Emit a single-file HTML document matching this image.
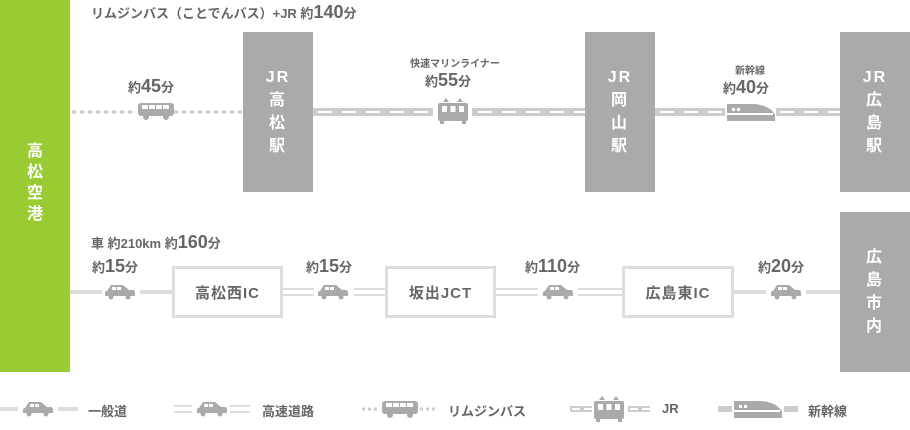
<!DOCTYPE html>
<html><head><meta charset="utf-8"><style>
*{margin:0;padding:0;box-sizing:border-box}
body{width:910px;height:430px;background:#fff;position:relative;overflow:hidden;font-family:"Liberation Sans","Noto Sans CJK JP",sans-serif;color:#666;font-weight:bold}
.a{position:absolute}
.st{position:absolute;background:#aaa;color:#fff;font-size:16px;line-height:23px;text-align:center;display:flex;flex-direction:column;justify-content:center;letter-spacing:2px}
.box{position:absolute;border:3px solid #ddd;background:#fff;font-size:15px;display:flex;align-items:center;justify-content:center;letter-spacing:1px;height:52px}
.lbl{position:absolute;font-size:13px;white-space:nowrap;text-align:center}
.lbl b{font-size:18px}
.sm{font-size:10px}
.lg{position:absolute;font-size:13px;top:401px}
</style></head><body>
<svg class="a" style="left:0;top:0" width="910" height="430">
<defs>
<g id="car"><path d="M3 7 L7 1 H19 L25 6 H29 Q31 6 31 9 V12 H1 V9 Q1 7 3 7Z" fill="#aaa"/><rect x="8" y="3" width="4" height="3" fill="#fff"/><rect x="13" y="3" width="4" height="3" fill="#fff"/><circle cx="7" cy="13" r="2.5" fill="#aaa"/><circle cx="24" cy="13" r="2.5" fill="#aaa"/></g>
<g id="bus"><rect x="0" y="0" width="36" height="13" rx="3" fill="#aaa"/><rect x="4" y="2" width="6" height="4" fill="#fff"/><rect x="11" y="2" width="6" height="4" fill="#fff"/><rect x="18" y="2" width="6" height="4" fill="#fff"/><rect x="25" y="2" width="6" height="4" fill="#fff"/><circle cx="8" cy="14" r="3" fill="#aaa"/><circle cx="28" cy="14" r="3" fill="#aaa"/></g>
<g id="train"><path d="M10 0 L7 4 H13Z M24 0 L21 4 H27Z" fill="#aaa"/><rect x="2" y="5" width="30" height="18" rx="2" fill="#aaa"/><rect x="6" y="8" width="5" height="6" fill="#fff"/><rect x="14.5" y="8" width="5" height="6" fill="#fff"/><rect x="23" y="8" width="5" height="6" fill="#fff"/><rect x="4" y="23" width="4" height="3" fill="#aaa"/><rect x="26" y="23" width="4" height="3" fill="#aaa"/></g>
<g id="shin"><path d="M0 0 H28 Q44 2 48 11 V17 H0Z" fill="#aaa"/><rect x="5" y="4" width="3" height="3" fill="#fff"/><rect x="10" y="4" width="3" height="3" fill="#fff"/><rect x="0" y="9" width="46" height="2" fill="#fff"/></g>
</defs>
<!-- top: bus dotted -->
<line x1="72" y1="112" x2="132" y2="112" stroke="#ccc" stroke-width="3" stroke-dasharray="4 4"/>
<line x1="174" y1="112" x2="243" y2="112" stroke="#ccc" stroke-width="3" stroke-dasharray="4 4"/>
<use href="#bus" x="138" y="103"/>
<!-- JR -->
<rect x="313" y="108" width="120" height="8" fill="#ccc"/><line x1="318" y1="112" x2="433" y2="112" stroke="#fff" stroke-width="2" stroke-dasharray="14 10"/>
<rect x="472" y="108" width="113" height="8" fill="#ccc"/><line x1="478" y1="112" x2="585" y2="112" stroke="#fff" stroke-width="2" stroke-dasharray="14 10"/>
<use href="#train" x="436" y="98"/>
<!-- shinkansen -->
<rect x="655" y="108" width="70" height="8" fill="#ccc"/><line x1="660" y1="112" x2="725" y2="112" stroke="#fff" stroke-width="2" stroke-dasharray="14 10"/>
<rect x="776" y="108" width="64" height="8" fill="#ccc"/><line x1="780" y1="112" x2="840" y2="112" stroke="#fff" stroke-width="2" stroke-dasharray="14 10"/>
<use href="#shin" x="727" y="104"/>
<!-- bottom -->
<line x1="70" y1="292" x2="102" y2="292" stroke="#ddd" stroke-width="4"/>
<line x1="140" y1="292" x2="172" y2="292" stroke="#ddd" stroke-width="4"/>
<g stroke="#ddd" stroke-width="2">
<line x1="282" y1="289" x2="314" y2="289"/><line x1="282" y1="295" x2="314" y2="295"/>
<line x1="354" y1="289" x2="385" y2="289"/><line x1="354" y1="295" x2="385" y2="295"/>
<line x1="495" y1="289" x2="538" y2="289"/><line x1="495" y1="295" x2="538" y2="295"/>
<line x1="578" y1="289" x2="623" y2="289"/><line x1="578" y1="295" x2="623" y2="295"/>
</g>
<line x1="733" y1="292" x2="766" y2="292" stroke="#ddd" stroke-width="4"/>
<line x1="806" y1="292" x2="840" y2="292" stroke="#ddd" stroke-width="4"/>
<use href="#car" x="104" y="284"/><use href="#car" x="317" y="284"/><use href="#car" x="542" y="284"/><use href="#car" x="770" y="284"/>
<!-- legend -->
<line x1="0" y1="409" x2="18" y2="409" stroke="#ddd" stroke-width="4"/><use href="#car" x="22" y="401"/><line x1="58" y1="409" x2="78" y2="409" stroke="#ddd" stroke-width="4"/>
<g stroke="#ddd" stroke-width="2"><line x1="174" y1="406" x2="192" y2="406"/><line x1="174" y1="412" x2="192" y2="412"/><line x1="230" y1="406" x2="250" y2="406"/><line x1="230" y1="412" x2="250" y2="412"/></g>
<use href="#car" x="196" y="401"/>
<line x1="362" y1="409" x2="380" y2="409" stroke="#ccc" stroke-width="3" stroke-dasharray="3 3"/><use href="#bus" x="382" y="401"/><line x1="420" y1="409" x2="438" y2="409" stroke="#ccc" stroke-width="3" stroke-dasharray="3 3"/>
<rect x="570" y="406" width="22" height="6" fill="#ccc"/><line x1="572" y1="409" x2="592" y2="409" stroke="#fff" stroke-width="2" stroke-dasharray="8 4"/>
<use href="#train" x="592" y="396"/>
<rect x="628" y="406" width="22" height="6" fill="#ccc"/><line x1="630" y1="409" x2="650" y2="409" stroke="#fff" stroke-width="2" stroke-dasharray="8 4"/>
<rect x="718" y="406" width="14" height="6" fill="#ccc"/><use href="#shin" x="734" y="401" transform="scale(1)"/><rect x="784" y="406" width="14" height="6" fill="#ccc"/>
</svg>

<div class="a" style="left:0;top:0;width:70px;height:372px;background:#99cc33"></div>
<div class="a" style="left:0;top:141px;width:70px;color:#fff;font-size:16px;line-height:21px;text-align:center">高<br>松<br>空<br>港</div>

<div class="st" style="left:243px;top:32px;width:70px;height:160px">JR<br>高<br>松<br>駅</div>
<div class="st" style="left:585px;top:32px;width:70px;height:160px">JR<br>岡<br>山<br>駅</div>
<div class="st" style="left:840px;top:32px;width:70px;height:160px">JR<br>広<br>島<br>駅</div>
<div class="st" style="left:840px;top:212px;width:70px;height:160px">広<br>島<br>市<br>内</div>

<div class="lbl" style="left:91px;top:2px">リムジンバス（ことでんバス）+JR 約<b>140</b>分</div>
<div class="lbl" style="left:128px;top:76px">約<b>45</b>分</div>
<div class="lbl" style="left:410px;top:55px;width:90px"><span class="sm">快速マリンライナー</span></div>
<div class="lbl" style="left:425px;top:70px">約<b>55</b>分</div>
<div class="lbl" style="left:720px;top:62px;width:60px"><span class="sm">新幹線</span></div>
<div class="lbl" style="left:723px;top:77px">約<b>40</b>分</div>

<div class="lbl" style="left:91px;top:232px">車 約210km 約<b>160</b>分</div>
<div class="lbl" style="left:92px;top:256px">約<b>15</b>分</div>
<div class="lbl" style="left:306px;top:256px">約<b>15</b>分</div>
<div class="lbl" style="left:525px;top:256px">約<b>110</b>分</div>
<div class="lbl" style="left:758px;top:256px">約<b>20</b>分</div>

<div class="box" style="left:172px;top:266px;width:111px">高松西IC</div>
<div class="box" style="left:385px;top:266px;width:111px">坂出JCT</div>
<div class="box" style="left:622px;top:266px;width:112px">広島東IC</div>

<div class="lg" style="left:88px">一般道</div>
<div class="lg" style="left:262px">高速道路</div>
<div class="lg" style="left:448px">リムジンバス</div>
<div class="lg" style="left:662px">JR</div>
<div class="lg" style="left:808px">新幹線</div>
</body></html>
